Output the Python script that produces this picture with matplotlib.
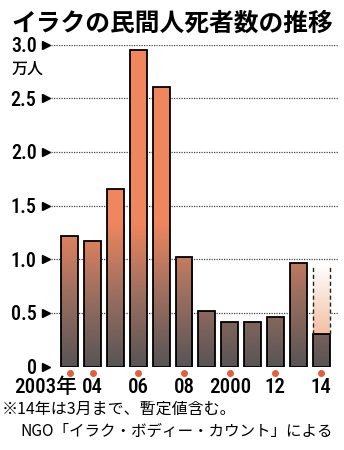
import numpy as np
import matplotlib
matplotlib.use('Agg')
from matplotlib import pyplot as plt
from matplotlib.colors import LinearSegmentedColormap

# Iraqi civilian deaths, unit: 10,000 people (Iraq Body Count)
years = ['2003', '2004', '2005', '2006', '2007', '2008',
         '2009', '2010', '2011', '2012', '2013', '2014']
deaths = [1.22, 1.17, 1.65, 2.95, 2.60, 1.02, 0.52, 0.42, 0.42, 0.46, 0.97, 0.30]
deaths_2014_full_year = 0.95  # dashed outline (provisional through March)

y_ticks = [0, 0.5, 1.0, 1.5, 2.0, 2.5, 3.0]
y_tick_labels = ['0', '0.5', '1.0', '1.5', '2.0', '2.5', '3.0']
x_label_pos = [0, 1, 3, 5, 7, 9, 11]
x_label_text = ['2003年', '04', '06', '08', '2000', '12', '14']

plt.rcParams['font.family'] = ['Noto Sans CJK JP', 'DejaVu Sans']
num_font = ['Roboto Condensed', 'Noto Sans CJK JP', 'DejaVu Sans']

fig = plt.figure(figsize=(3.44, 4.5), dpi=100)
ax = fig.add_axes([38 / 344, 83.3 / 450, 300 / 344, 322.2 / 450])

x = np.arange(len(years))
xmin, xmax = -1.39, 11.74

# dotted grid lines with small arrow heads
ax.hlines(y_ticks[1:], -0.82, xmax, colors='#444444', linestyles=(0, (1, 1)), lw=0.9, zorder=1)
ax.plot([-1.06] * len(y_ticks), y_ticks, linestyle='none', marker='>', ms=5.5,
        color='black', clip_on=False, zorder=3)

# gradient (gray at bottom -> orange higher up)
cmap = LinearSegmentedColormap.from_list('grad', ['#585456', '#9c6f60', '#f0865e'])
grad = np.linspace(0, 3.0, 300).reshape(-1, 1)

w = 0.74
bars = ax.bar(x, deaths, width=w, facecolor='none', edgecolor='black', lw=1.3, zorder=4)
for b in bars:
    im = ax.imshow(grad, extent=[xmin, xmax, 0, 3.0], origin='lower', aspect='auto',
                   cmap=cmap, vmin=0, vmax=1.35, zorder=3)
    im.set_clip_path(b)

# 2014 provisional part
x14 = x[-1]
pale = LinearSegmentedColormap.from_list('pale', ['#f4bfa3', '#ffffff'])
pale_grad = np.linspace(0, 1, 100).reshape(-1, 1)
ax.imshow(pale_grad, extent=[x14 - w / 2, x14 + w / 2, deaths[-1], deaths_2014_full_year],
          origin='lower', aspect='auto', cmap=pale, vmin=0, vmax=1, zorder=2)
ax.vlines([x14 - w / 2, x14 + w / 2], deaths[-1], deaths_2014_full_year,
          colors='#222222', linestyles=(0, (3, 2)), lw=1.0, zorder=4)
ax.set_xlim(xmin, xmax)
ax.set_ylim(0, 3.0)

# red dots under labeled years
ax.plot(x_label_pos, [-0.055] * len(x_label_pos), linestyle='none', marker='o', ms=4,
        color='#e0603a', clip_on=False, zorder=5)

for pos, txt in zip(x_label_pos, x_label_text):
    if txt.endswith('年'):
        ax.text(pos + 0.33, -0.19, txt, ha='right', va='center', fontsize=15,
                family=num_font, weight='medium', clip_on=False)
    else:
        ax.text(pos, -0.19, txt, ha='center', va='center', fontsize=15,
                family=num_font, weight='medium', clip_on=False)

ax.set_yticks(y_ticks)
ax.set_yticklabels(y_tick_labels, family=num_font, fontsize=14.5, weight='medium')
ax.tick_params(axis='y', length=0, pad=1)
ax.set_xticks([])
for s in ax.spines.values():
    s.set_visible(False)

fig.text(11 / 344, 1 - 24 / 450, 'イラクの民間人死者数の推移', ha='left', va='center',
         fontsize=17.8, fontweight='bold')
fig.text(12 / 344, 1 - 69 / 450, '万人', ha='left', va='center', fontsize=11.5, weight='medium')
fig.text(2 / 344, 1 - 409 / 450, '※14年は3月まで、暫定値含む。', ha='left', va='center', fontsize=11.5)
fig.text(20 / 344, 1 - 431 / 450, 'NGO「イラク・ボディー・カウント」による', ha='left', va='center',
         fontsize=11.2)

fig.savefig('out.png', dpi=100)
